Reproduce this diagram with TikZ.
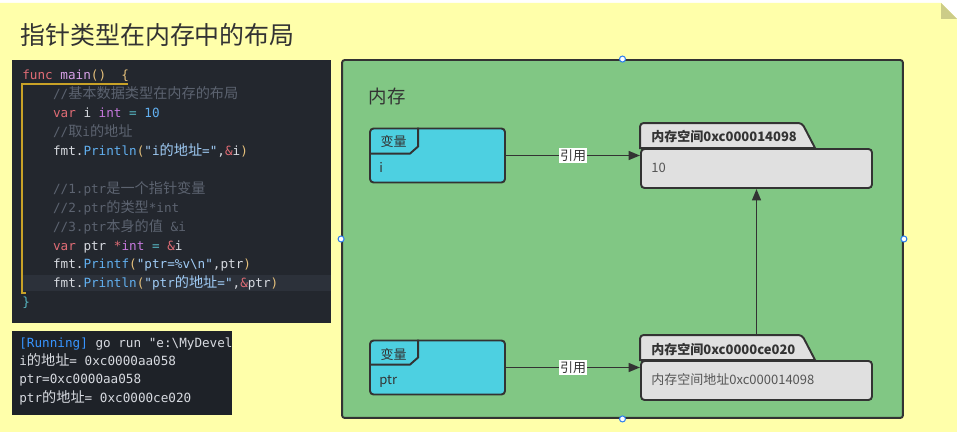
\documentclass[tikz,border=0pt]{standalone}
\usepackage{fontspec}
\setmainfont{Noto Sans CJK SC}
\setmonofont{DejaVu Sans Mono}
\newfontfamily\cjkc{Noto Sans CJK SC}[Scale=1.12]
\usetikzlibrary{arrows.meta}

\definecolor{notebg}{HTML}{FFFFAA}
\definecolor{notefold}{HTML}{CCCC88}
\definecolor{memgreen}{HTML}{81C784}
\definecolor{varcyan}{HTML}{4DD0E1}
\definecolor{cellgray}{HTML}{E0E0E0}
\definecolor{ink}{HTML}{333333}
\definecolor{softink}{HTML}{555555}
\definecolor{codebg}{HTML}{23272E}
\definecolor{codehl}{HTML}{2C313A}
\definecolor{termbg}{HTML}{1E2228}
\definecolor{codetext}{HTML}{D7DAE0}
\definecolor{codered}{HTML}{E06C75}
\definecolor{codepurple}{HTML}{C678DD}
\definecolor{codeblue}{HTML}{61AFEF}
\definecolor{codecyan}{HTML}{56B6C2}
\definecolor{codeyellow}{HTML}{E5C07B}
\definecolor{codestr}{HTML}{9FCBF5}
\definecolor{codecom}{HTML}{5C6370}
\definecolor{guide}{HTML}{C9A227}
\definecolor{termblue}{HTML}{3794FF}
\definecolor{handle}{HTML}{2F80ED}

% code colouring
\newcommand{\ckw}[1]{\textcolor{codered}{#1}}
\newcommand{\cty}[1]{\textcolor{codepurple}{#1}}
\newcommand{\cfn}[1]{\textcolor{codeblue}{#1}}
\newcommand{\cop}[1]{\textcolor{codecyan}{#1}}
\newcommand{\cpar}[1]{\textcolor{codeyellow}{#1}}
\newcommand{\cstr}[1]{\textcolor{codestr}{#1}}
\newcommand{\ccom}[1]{\textcolor{codecom}{#1}}
\newcommand{\zh}[1]{{\cjkc #1}}

\tikzset{
  codeline/.style={anchor=base west, inner sep=0, text=codetext,
    font=\ttfamily\fontsize{7.2pt}{8.6pt}\selectfont},
  varbox/.style={draw=ink, fill=varcyan, line width=1.1pt, rounded corners=2pt,
    minimum width=2.7cm, minimum height=1.08cm, inner sep=0},
  membox/.style={draw=ink, fill=cellgray, line width=1.1pt, rounded corners=2pt,
    minimum width=4.62cm, minimum height=0.78cm, inner sep=0},
  memtab/.style={draw=ink, fill=cellgray, line width=1.1pt},
  tabline/.style={draw=ink, line width=1.1pt},
  boxtext/.style={anchor=west, inner sep=0, text=ink, font=\fontsize{7.4pt}{9pt}\selectfont},
  ref/.style={draw=ink, line width=1.1pt, -{Triangle[length=6.5pt, width=5pt]}},
  reflabel/.style={fill=white, text=ink, inner sep=0.6pt, font=\fontsize{7.4pt}{9pt}\selectfont},
  handle/.style={circle, draw=handle, fill=white, line width=0.6pt, inner sep=0, minimum size=0.12cm}
}

\begin{document}
\begin{tikzpicture}[x=0.02cm, y=-0.02cm]
  \useasboundingbox (0,0) rectangle (957,432);

  % sticky note
  \fill[notebg] (0,3) -- (941,3) -- (957,19) -- (957,432) -- (0,432) -- cycle;
  \fill[notefold] (941,3) -- (941,19) -- (957,19) -- cycle;
  \node[anchor=west, inner sep=0, text=ink, font=\fontsize{14.2pt}{17pt}\selectfont]
    (title) at (20,35) {指针类型在内存中的布局};

  % source code
  \fill[codebg] (12,60) rectangle (331,323);
  \fill[codehl] (23,275) rectangle (331,291);
  \draw[guide, line width=0.6pt] (128,84) -- (22,84) -- (22,293) -- (26,293);
  \node[codeline] (l1) at (22,80) {\ckw{func} \textcolor{codepurple!70!white}{main}\cpar{()}~~\cpar{\{}};
  \node[codeline] (l2) at (52.7,98.9) {\ccom{//\zh{基本数据类型在内存的布局}}};
  \node[codeline] (l3) at (52.7,117.8) {\ckw{var} i \cty{int} \cop{=} \cfn{10}};
  \node[codeline] (l4) at (52.7,136.7) {\ccom{//\zh{取}i\zh{的地址}}};
  \node[codeline] (l5) at (52.7,155.6) {fmt.\cfn{Println}\cpar{(}\cstr{"i\zh{的地址}="},\ckw{\&}i\cpar{)}};
  \node[codeline] (l7) at (52.7,193.4) {\ccom{//1.ptr\zh{是一个指针变量}}};
  \node[codeline] (l8) at (52.7,212.3) {\ccom{//2.ptr\zh{的类型}*int}};
  \node[codeline] (l9) at (52.7,231.2) {\ccom{//3.ptr\zh{本身的值} \&i}};
  \node[codeline] (l10) at (52.7,250.1) {\ckw{var} ptr \ckw{*}\cty{int} \cop{=} \ckw{\&}i};
  \node[codeline] (l11) at (52.7,269) {fmt.\cfn{Printf}\cpar{(}\cstr{"ptr=\%v\textbackslash n"},ptr\cpar{)}};
  \node[codeline] (l12) at (52.7,287.9) {fmt.\cfn{Println}\cpar{(}\cstr{"ptr\zh{的地址}="},\ckw{\&}ptr\cpar{)}};
  \node[codeline] (l13) at (22,306.8) {\cop{\}}};

  % terminal output
  \fill[termbg] (12,331) rectangle (232,415);
  \begin{scope}
    \clip (12,331) rectangle (232,415);
    \node[codeline] (t1) at (19,347) {\textcolor{termblue}{[Running]} go run "e:\textbackslash MyDevel};
    \node[codeline] (t2) at (19,365.3) {i\zh{的地址}= 0xc0000aa058};
    \node[codeline] (t3) at (19,383.6) {ptr=0xc0000aa058};
    \node[codeline] (t4) at (19,402) {ptr\zh{的地址}= 0xc0000ce020};
  \end{scope}

  % memory area
  \node[draw=ink, fill=memgreen, line width=1.1pt, rounded corners=1.5pt,
    minimum width=11.22cm, minimum height=7.16cm] (mem) at (622.5,239) {};
  \node[anchor=center, inner sep=0, text=ink, font=\fontsize{10.5pt}{12pt}\selectfont]
    (memlabel) at (387,97) {内存};

  % variable i
  \node[varbox] (vi) at (437.5,155.5) {};
  \draw[tabline] (vi.north west) ++(0,26) -- ++(41,0) -- ++(8,-7) -- ++(0,-19);
  \node[boxtext, anchor=center] (vilabel) at (393.5,142) {变量};
  \node[boxtext] (viname) at (379,167) {i};

  % variable ptr
  \node[varbox] (vptr) at (437.5,367.5) {};
  \draw[tabline] (vptr.north west) ++(0,25) -- ++(41,0) -- ++(8,-7) -- ++(0,-18);
  \node[boxtext, anchor=center] (vptrlabel) at (393.5,354.5) {变量};
  \node[boxtext] (vptrname) at (379,381) {ptr};

  % memory cell of i
  \node[membox] (mtop) at (756.5,168.5) {};
  \draw[memtab] (mtop.north west) [rounded corners=2pt] -- ++(0,-25) -- ++(162,0)
    [sharp corners] -- ++(13,25) -- cycle;
  \node[boxtext] (mtoptitle) at (651,136.7) {\textbf{内存空间0xc000014098}};
  \node[boxtext, text=softink] (mtopval) at (651,168.3) {10};

  % memory cell of ptr
  \node[membox] (mbot) at (756.5,380.5) {};
  \draw[memtab] (mbot.north west) [rounded corners=2pt] -- ++(0,-25) -- ++(162,0)
    [sharp corners] -- ++(13,25) -- cycle;
  \node[boxtext] (mbottitle) at (651,349.3) {\textbf{内存空间0xc0000ce020}};
  \node[boxtext, text=softink] (mbotval) at (651,380) {内存空间地址0xc000014098};
  \coordinate (mbottab) at (756.5,336);

  % references
  \draw[ref] (vi) -- node[reflabel] {引用} (vi -| mtop.west);
  \draw[ref] (vptr) -- node[reflabel] {引用} (vptr -| mbot.west);
  \draw[ref] (mbottab) -- (mtop.south);

  % selection handles
  \foreach \a in {north,south,east,west}
    \node[handle] (h-\a) at (mem.\a) {};
\end{tikzpicture}
\end{document}
